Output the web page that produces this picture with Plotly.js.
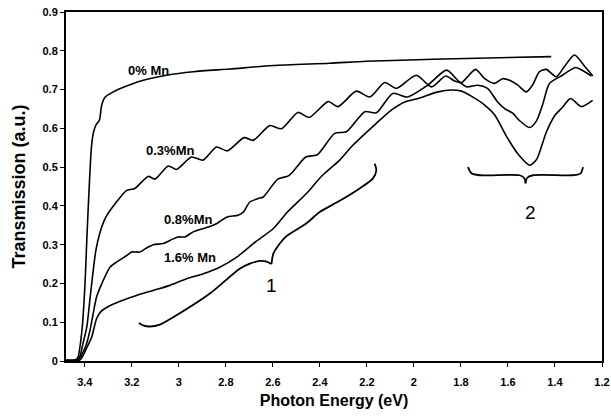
<!DOCTYPE html>
<html>
<head>
<meta charset="utf-8">
<script src="https://cdn.plot.ly/plotly-3.0.1.min.js"></script>
<style>html,body{margin:0;padding:0;background:#fff;}#chart{width:611px;height:419px;}</style>
</head>
<body>
<div id="chart"></div>
<script>
// Photon energy (eV) and transmission (a.u.)
const energy0 = [3.480, 3.440, 3.429, 3.412, 3.399, 3.391, 3.382, 3.372, 3.364, 3.353, 3.338, 3.328, 3.314, 3.279, 3.222, 3.151, 3.052, 2.939, 2.783, 2.600, 2.358, 2.202, 1.920, 1.636, 1.416];
const trans0  = [0.002, 0.003, 0.010, 0.080, 0.200, 0.320, 0.440, 0.550, 0.587, 0.608, 0.621, 0.660, 0.680, 0.694, 0.709, 0.724, 0.737, 0.746, 0.753, 0.762, 0.768, 0.773, 0.778, 0.782, 0.785];

const energy03 = [3.480, 3.428, 3.406, 3.391, 3.378, 3.365, 3.353, 3.336, 3.319, 3.302, 3.272, 3.243, 3.222, 3.187, 3.130, 3.102, 3.045, 3.010, 2.946, 2.897, 2.840, 2.794, 2.722, 2.684, 2.613, 2.563, 2.493, 2.446, 2.365, 2.323, 2.245, 2.188, 2.124, 2.075, 1.990, 1.925, 1.865, 1.827, 1.797, 1.738, 1.699, 1.657, 1.623, 1.593, 1.559, 1.522, 1.495, 1.466, 1.437, 1.395, 1.359, 1.317, 1.274, 1.239];
const trans03  = [0.002, 0.004, 0.050, 0.090, 0.160, 0.230, 0.285, 0.330, 0.360, 0.380, 0.405, 0.427, 0.440, 0.445, 0.476, 0.469, 0.503, 0.494, 0.526, 0.518, 0.552, 0.542, 0.576, 0.569, 0.607, 0.599, 0.641, 0.628, 0.669, 0.656, 0.696, 0.681, 0.718, 0.703, 0.737, 0.707, 0.735, 0.722, 0.718, 0.752, 0.728, 0.716, 0.728, 0.724, 0.712, 0.694, 0.712, 0.746, 0.752, 0.733, 0.760, 0.789, 0.760, 0.735];

const energy08 = [3.480, 3.429, 3.395, 3.378, 3.365, 3.350, 3.328, 3.293, 3.265, 3.222, 3.201, 3.166, 3.130, 3.109, 3.066, 3.038, 3.003, 2.974, 2.939, 2.910, 2.882, 2.840, 2.797, 2.748, 2.726, 2.698, 2.663, 2.641, 2.579, 2.532, 2.460, 2.411, 2.337, 2.287, 2.209, 2.160, 2.090, 2.027, 1.942, 1.861, 1.814, 1.776, 1.729, 1.687, 1.644, 1.614, 1.580, 1.551, 1.508, 1.478, 1.453, 1.423, 1.368, 1.313, 1.279, 1.245];
const trans08  = [0.002, 0.003, 0.040, 0.079, 0.120, 0.165, 0.199, 0.242, 0.255, 0.272, 0.281, 0.281, 0.294, 0.300, 0.303, 0.311, 0.320, 0.320, 0.333, 0.339, 0.344, 0.354, 0.371, 0.376, 0.384, 0.410, 0.419, 0.423, 0.469, 0.478, 0.526, 0.532, 0.587, 0.591, 0.643, 0.640, 0.690, 0.681, 0.711, 0.750, 0.724, 0.707, 0.711, 0.703, 0.668, 0.651, 0.639, 0.620, 0.602, 0.620, 0.660, 0.716, 0.737, 0.757, 0.748, 0.735];

const energy16 = [3.480, 3.420, 3.395, 3.371, 3.350, 3.331, 3.307, 3.250, 3.180, 3.109, 3.038, 2.967, 2.896, 2.826, 2.749, 2.670, 2.599, 2.537, 2.457, 2.392, 2.316, 2.259, 2.160, 2.096, 2.039, 1.983, 1.898, 1.841, 1.798, 1.756, 1.699, 1.657, 1.607, 1.559, 1.508, 1.478, 1.437, 1.402, 1.367, 1.334, 1.288, 1.240];
const trans16  = [0.002, 0.003, 0.030, 0.061, 0.109, 0.128, 0.138, 0.154, 0.169, 0.182, 0.195, 0.212, 0.225, 0.242, 0.270, 0.309, 0.341, 0.385, 0.432, 0.477, 0.518, 0.557, 0.613, 0.647, 0.668, 0.677, 0.694, 0.699, 0.696, 0.683, 0.660, 0.635, 0.580, 0.535, 0.505, 0.520, 0.590, 0.632, 0.655, 0.677, 0.656, 0.672];

// Curly braces (region markers "1" and "2")
const brace1X = [3.170, 3.149, 3.123, 3.081, 3.010, 2.868, 2.741, 2.698, 2.656, 2.630, 2.606, null, 2.606, 2.598, 2.579, 2.542, 2.457, 2.401, 2.316, 2.231, 2.174, 2.160, 2.167];
const brace1Y = [0.098, 0.091, 0.089, 0.094, 0.118, 0.174, 0.238, 0.251, 0.258, 0.257, 0.250, null, 0.250, 0.277, 0.296, 0.322, 0.355, 0.384, 0.413, 0.445, 0.471, 0.492, 0.509];
const brace2X = [1.770, 1.755, 1.721, 1.551, 1.531, 1.525, null, 1.525, 1.519, 1.494, 1.324, 1.291, 1.281];
const brace2Y = [0.500, 0.484, 0.479, 0.479, 0.472, 0.458, null, 0.458, 0.472, 0.479, 0.479, 0.484, 0.500];

const seriesLabels = ['0% Mn', '0.3%Mn', '0.8%Mn', '1.6% Mn'];
const labelX = [3.127, 3.036, 2.961, 2.953];
const labelY = [0.748, 0.544, 0.365, 0.267];
const regionLabels = ['1', '2'];
const regionX = [2.605, 1.504];
const regionY = [0.194, 0.384];

const xTickVals = [3.4, 3.2, 3.0, 2.8, 2.6, 2.4, 2.2, 2.0, 1.8, 1.6, 1.4, 1.2];
const xTickText = ['3.4', '3.2', '3', '2.8', '2.6', '2.4', '2.2', '2', '1.8', '1.6', '1.4', '1.2'];
const yTickVals = [0, 0.1, 0.2, 0.3, 0.4, 0.5, 0.6, 0.7, 0.8, 0.9];
const yTickText = ['0', '0.1', '0.2', '0.3', '0.4', '0.5', '0.6', '0.7', '0.8', '0.9'];

const FONT = 'Liberation Sans, Arial, Helvetica, sans-serif';
const lineStyle = {color: '#000', width: 1.6, shape: 'spline', smoothing: 0.7};

function curve(x, y, name) {
  return {x: x, y: y, name: name, type: 'scatter', mode: 'lines', line: lineStyle, hoverinfo: 'skip', connectgaps: false};
}

const traces = [
  curve(energy0, trans0, seriesLabels[0]),
  curve(energy03, trans03, seriesLabels[1]),
  curve(energy08, trans08, seriesLabels[2]),
  curve(energy16, trans16, seriesLabels[3]),
  {x: brace1X, y: brace1Y, type: 'scatter', mode: 'lines', line: {color: '#000', width: 1.8, shape: 'spline', smoothing: 0.8}, hoverinfo: 'skip', connectgaps: false},
  {x: brace2X, y: brace2Y, type: 'scatter', mode: 'lines', line: {color: '#000', width: 1.8, shape: 'spline', smoothing: 0.8}, hoverinfo: 'skip', connectgaps: false}
];

const annotations = [];
for (let i = 0; i < seriesLabels.length; i++) {
  annotations.push({x: labelX[i], y: labelY[i], xref: 'x', yref: 'y', text: seriesLabels[i], showarrow: false,
    font: {family: FONT, size: 13, color: '#000', weight: 'bold'}});
}
for (let i = 0; i < regionLabels.length; i++) {
  annotations.push({x: regionX[i], y: regionY[i], xref: 'x', yref: 'y', text: regionLabels[i], showarrow: false,
    font: {family: FONT, size: 19, color: '#000'}});
}

const axisBase = {
  showline: true, linecolor: '#000', linewidth: 2, mirror: true,
  ticks: 'outside', ticklen: 4, tickwidth: 1, tickcolor: '#000',
  showgrid: false, zeroline: false, automargin: false,
  tickfont: {family: FONT, size: 11, color: '#000', weight: 'bold'}
};

const layout = {
  width: 611, height: 419,
  margin: {l: 66, r: 9, t: 12, b: 58},
  paper_bgcolor: '#fff', plot_bgcolor: '#fff',
  showlegend: false,
  xaxis: Object.assign({}, axisBase, {
    range: [3.48, 1.2], tickmode: 'array', tickvals: xTickVals, ticktext: xTickText,
    ticklabelstandoff: 6,
    title: {text: 'Photon Energy (eV)', font: {family: FONT, size: 16, color: '#000', weight: 'bold'}, standoff: 8}
  }),
  yaxis: Object.assign({}, axisBase, {
    range: [0, 0.9], tickmode: 'array', tickvals: yTickVals, ticktext: yTickText,
    title: {text: 'Transmission (a.u.)', font: {family: FONT, size: 18, color: '#000', weight: 'bold'}, standoff: 12}
  }),
  annotations: annotations
};

Plotly.newPlot('chart', traces, layout, {staticPlot: true, displayModeBar: false});
</script>
</body>
</html>
